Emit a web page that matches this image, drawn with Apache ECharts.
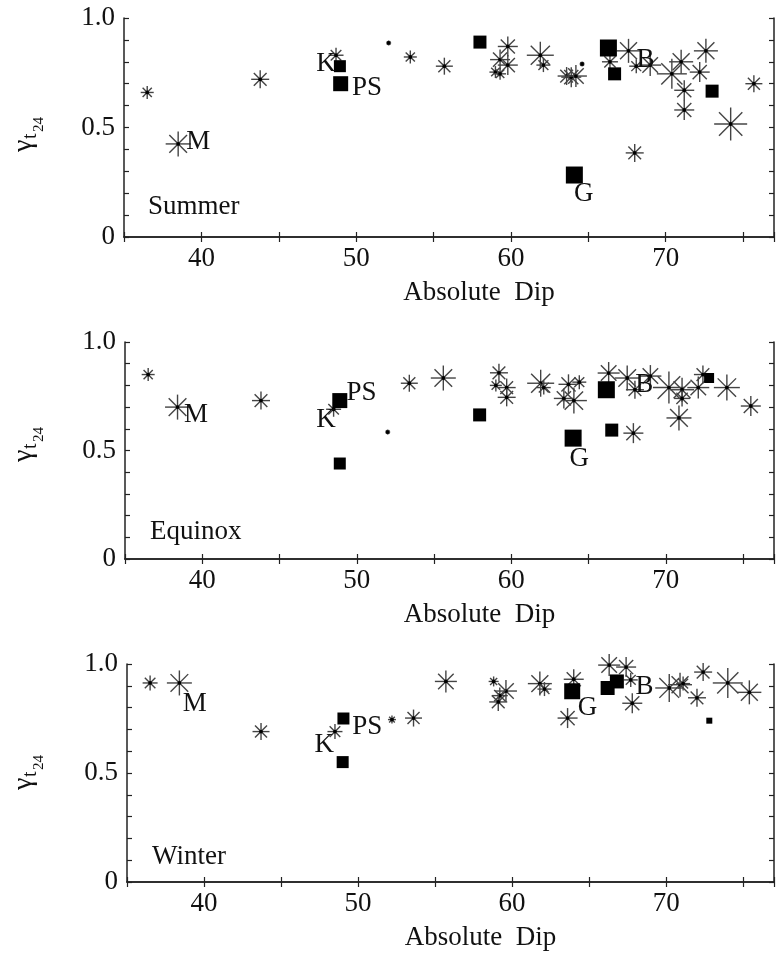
<!DOCTYPE html>
<html>
<head>
<meta charset="utf-8">
<script src="https://cdn.jsdelivr.net/npm/echarts@6/dist/echarts.min.js"></script>
<style>
  body { margin: 0; background: #fff; }
  #chart { width: 777px; height: 954px; }
</style>
</head>
<body>
<div id="chart"></div>
<script>
// [dip, gamma, marker size]
var summerStars = [[36.5,0.66,13],[38.5,0.425,25],[43.8,0.72,18],[48.7,0.83,15],[52.1,0.886,5],[53.5,0.822,13],[55.7,0.78,17],[59.8,0.87,20],[59.3,0.81,20],[59.8,0.785,20],[59.0,0.753,12],[59.3,0.745,12],[61.9,0.83,27],[62.1,0.785,14],[64.6,0.79,5],[63.6,0.735,18],[63.9,0.73,20],[64.2,0.735,22],[66.4,0.80,16],[67.6,0.85,24],[68.1,0.78,14],[69.0,0.785,22],[70.4,0.745,30],[71.0,0.80,24],[72.2,0.753,20],[72.6,0.85,24],[71.2,0.67,20],[71.2,0.58,20],[75.7,0.70,17],[74.2,0.516,33],[68.0,0.384,18]];
var summerSquares = [[48.95,0.78,12],[49.0,0.70,15],[58.0,0.89,13],[66.3,0.863,17],[66.7,0.745,13],[73.0,0.666,13],[64.1,0.283,17]];
var summerTags = [['M',39.8,0.434],['K',48.05,0.79],['PS',50.7,0.68],['B',68.7,0.81],['G',64.7,0.196]];

var equinoxStars = [[36.5,0.85,13],[38.4,0.70,25],[43.8,0.73,18],[48.5,0.69,15],[52.0,0.585,5],[53.4,0.81,17],[55.6,0.834,25],[59.2,0.858,18],[59.0,0.80,12],[59.7,0.79,18],[59.7,0.745,18],[61.9,0.81,27],[62.1,0.79,14],[63.7,0.805,20],[64.4,0.815,14],[63.4,0.74,20],[64.05,0.73,26],[67.9,0.58,20],[66.3,0.857,22],[67.5,0.834,25],[68.0,0.78,18],[69.0,0.843,22],[70.2,0.79,32],[71.05,0.78,24],[71.05,0.74,16],[70.85,0.65,25],[72.1,0.79,22],[72.4,0.85,18],[73.95,0.79,26],[75.5,0.705,20]];
var equinoxSquares = [[48.9,0.73,15],[48.9,0.44,12],[57.95,0.664,13],[64.0,0.557,17],[66.15,0.78,17],[66.5,0.594,13],[72.8,0.834,10]];
var equinoxTags = [['M',39.6,0.664],['K',48.0,0.64],['PS',50.3,0.765],['B',68.6,0.80],['G',64.4,0.46]];

var winterStars = [[36.5,0.913,15],[38.4,0.913,25],[43.7,0.69,17],[48.5,0.69,15],[52.2,0.745,8],[53.6,0.752,17],[55.7,0.92,22],[58.8,0.92,10],[59.6,0.876,22],[59.2,0.855,16],[59.1,0.826,18],[61.8,0.91,24],[62.1,0.885,14],[64.0,0.93,20],[63.6,0.752,20],[66.3,0.995,22],[67.4,0.986,20],[67.7,0.927,14],[67.8,0.82,20],[70.2,0.89,28],[70.9,0.905,24],[71.1,0.91,14],[72.4,0.963,18],[72.0,0.845,18],[74.0,0.913,30],[75.4,0.87,24]];
var winterSquares = [[49.05,0.75,12],[49.0,0.55,12],[63.9,0.875,16],[66.2,0.89,14],[66.8,0.92,14],[72.8,0.74,6]];
var winterTags = [['M',39.4,0.816],['K',47.8,0.628],['PS',50.6,0.71],['B',68.6,0.894],['G',64.9,0.80]];

var seasons = ['Summer', 'Equinox', 'Winter'];
var xTicks = [40, 50, 60, 70];
var yTicks = ['0', '0.5', '1.0'];

var FONT = 'Liberation Serif';
var panels = [
  { stars: summerStars, squares: summerSquares, tags: summerTags, grid: { left: 124, top: 18, right: -2, height: 219 }, ylab: [24, 152], season: [148, 207] },
  { stars: equinoxStars, squares: equinoxSquares, tags: equinoxTags, grid: { left: 125, top: 342, right: -6, height: 217 }, ylab: [24, 462], season: [150, 532] },
  { stars: winterStars, squares: winterSquares, tags: winterTags, grid: { left: 127, top: 664, right: -10, height: 218 }, ylab: [24, 790], season: [152, 857] }
];

var myChart = echarts.init(document.getElementById('chart'));

function renderStar(params, api) {
  var c = api.coord([api.value(0), api.value(1)]);
  var r = api.value(2) / 2;
  var d = r * Math.SQRT1_2;
  var st = { stroke: '#444', lineWidth: 1.4 };
  return {
    type: 'group',
    children: [
      { type: 'line', shape: { x1: c[0] - r, y1: c[1], x2: c[0] + r, y2: c[1] }, style: st },
      { type: 'line', shape: { x1: c[0], y1: c[1] - r, x2: c[0], y2: c[1] + r }, style: st },
      { type: 'line', shape: { x1: c[0] - d, y1: c[1] - d, x2: c[0] + d, y2: c[1] + d }, style: st },
      { type: 'line', shape: { x1: c[0] - d, y1: c[1] + d, x2: c[0] + d, y2: c[1] - d }, style: st },
      { type: 'circle', shape: { cx: c[0], cy: c[1], r: 1.9 }, style: { fill: '#000' } }
    ]
  };
}

var axisLine = { lineStyle: { color: '#222', width: 1.5 } };
var axisTick = { inside: true, length: 5, lineStyle: { color: '#222', width: 1.2 } };

var grids = [], xAxes = [], yAxes = [], series = [], graphics = [];

panels.forEach(function (p, i) {
  grids.push(p.grid);
  xAxes[i] = {
    gridIndex: i, type: 'value', min: 35, max: 77, interval: 5,
    axisLine: axisLine, axisTick: axisTick, splitLine: { show: false },
    axisLabel: {
      margin: 8, fontFamily: FONT, fontSize: 27, color: '#111',
      formatter: function (v) { return xTicks.indexOf(v) >= 0 ? String(v) : ''; }
    },
    name: 'Absolute  Dip', nameLocation: 'middle', nameGap: 42,
    nameTextStyle: { fontFamily: FONT, fontSize: 27, color: '#111', padding: [0, 0, 0, 60] }
  };
  xAxes[i + 3] = {
    gridIndex: i, type: 'value', position: 'top', min: 35, max: 77, interval: 5,
    axisLine: axisLine, axisTick: axisTick, axisLabel: { show: false }, splitLine: { show: false }
  };
  yAxes[i] = {
    gridIndex: i, type: 'value', min: 0, max: 1, interval: 0.1,
    axisLine: axisLine, axisTick: axisTick, splitLine: { show: false },
    axisLabel: {
      margin: 9, fontFamily: FONT, fontSize: 27, color: '#111',
      formatter: function (v) {
        if (Math.abs(v) < 1e-6) return yTicks[0];
        if (Math.abs(v - 0.5) < 1e-6) return yTicks[1];
        if (Math.abs(v - 1) < 1e-6) return yTicks[2];
        return '';
      }
    }
  };
  yAxes[i + 3] = {
    gridIndex: i, type: 'value', position: 'right', min: 0, max: 1, interval: 0.1,
    axisLine: axisLine, axisTick: axisTick, axisLabel: { show: false }, splitLine: { show: false }
  };

  series.push({
    type: 'custom', xAxisIndex: i, yAxisIndex: i,
    renderItem: renderStar, data: p.stars, encode: { x: 0, y: 1 }, silent: true
  });
  series.push({
    type: 'scatter', xAxisIndex: i, yAxisIndex: i, symbol: 'rect',
    symbolSize: function (v) { return v[2]; },
    itemStyle: { color: '#000', opacity: 1 }, data: p.squares, silent: true
  });
  series.push({
    type: 'scatter', xAxisIndex: i, yAxisIndex: i, symbolSize: 0, silent: true,
    itemStyle: { opacity: 1 },
    label: { show: true, position: 'inside', formatter: '{b}', fontFamily: FONT, fontSize: 27, color: '#111' },
    data: p.tags.map(function (t) { return { name: t[0], value: [t[1], t[2]] }; })
  });

  // y axis title: gamma with nested subscripts, rotated
  graphics.push({
    type: 'group', x: p.ylab[0], y: p.ylab[1], rotation: Math.PI / 2,
    children: [
      { type: 'text', x: 0, y: 0, style: { text: 'γ', font: '28px ' + FONT, fill: '#111', verticalAlign: 'middle' } },
      { type: 'text', x: 13, y: 7, style: { text: 't', font: '20px ' + FONT, fill: '#111', verticalAlign: 'middle' } },
      { type: 'text', x: 20, y: 15, style: { text: '24', font: '15px ' + FONT, fill: '#111', verticalAlign: 'middle' } }
    ]
  });
  graphics.push({
    type: 'text', x: p.season[0], y: p.season[1],
    style: { text: seasons[i], font: '27px ' + FONT, fill: '#111', verticalAlign: 'middle' }
  });
});

var option = {
  backgroundColor: '#fff',
  animation: false,
  grid: grids,
  xAxis: xAxes,
  yAxis: yAxes,
  series: series,
  graphic: graphics
};

myChart.setOption(option);
</script>
</body>
</html>
